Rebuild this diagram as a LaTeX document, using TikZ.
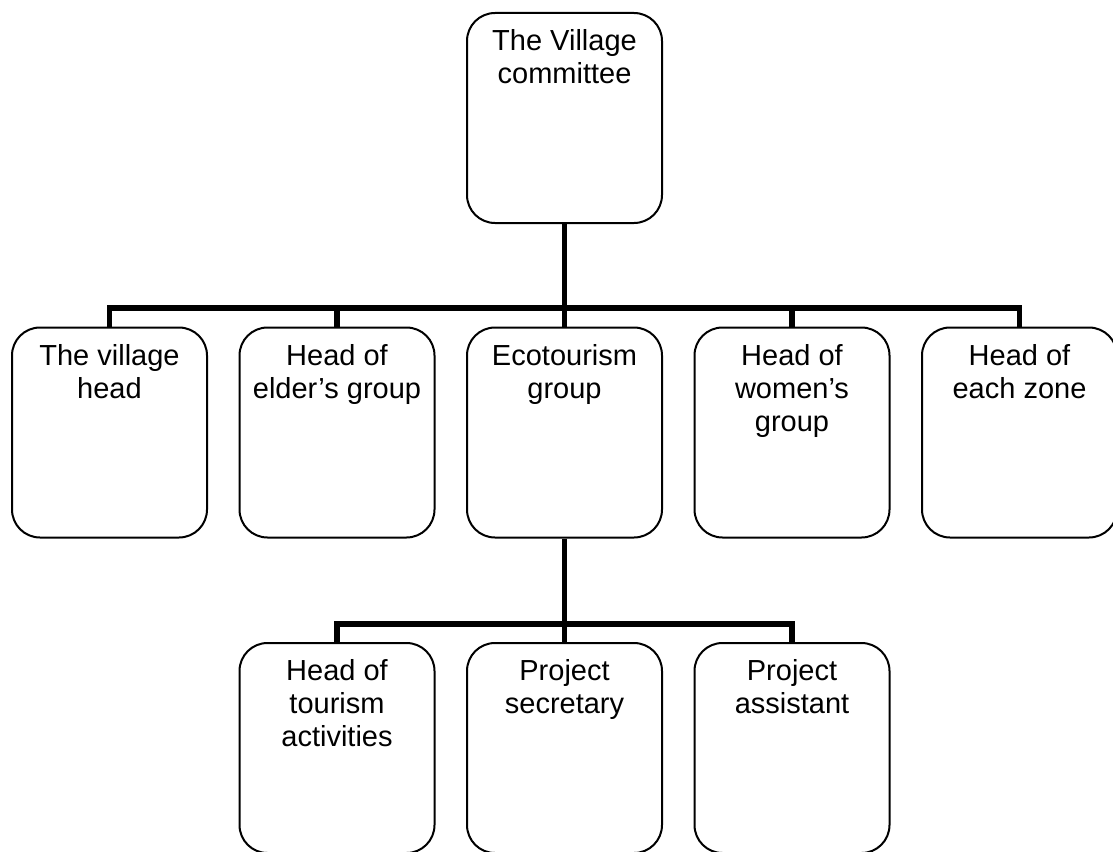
\documentclass[tikz,border=0pt]{standalone}
\usepackage{fontspec}
\setmainfont{Liberation Sans}
\newcommand\boxtext[1]{\parbox[c][210pt][t]{195pt}{\centering\fontsize{29}{33}\selectfont\rule{0pt}{37.7pt}#1}}
\begin{document}
\begin{tikzpicture}[x=1pt,y=-1pt,
  box/.style={draw=black, line width=2pt, rounded corners=28pt, inner sep=0pt,
    minimum width=195pt, minimum height=210pt, fill=white},
  conn/.style={draw=black, line width=5.5pt, line join=miter}]
\useasboundingbox (0,0) rectangle (1113,851);
\node[box] (vc) at (564.5,118) {\boxtext{The Village\\committee}};
\node[box] (b1) at (109.5,432.5) {\boxtext{The village\\head}};
\node[box] (b2) at (337,432.5) {\boxtext{Head of\\elder’s group}};
\node[box] (b3) at (564.5,432.5) {\boxtext{Ecotourism\\group}};
\node[box] (b4) at (792,432.5) {\boxtext{Head of\\women’s\\group}};
\node[box] (b5) at (1019.5,432.5) {\boxtext{Head of\\each zone}};
\node[box] (c1) at (337,748) {\boxtext{Head of\\tourism\\activities}};
\node[box] (c2) at (564.5,748) {\boxtext{Project\\secretary}};
\node[box] (c3) at (792,748) {\boxtext{Project\\assistant}};
\coordinate (bar1) at (564.5,308);
\coordinate (bar2) at (564.5,624);
\draw[conn] (vc.south) -- (bar1);
\draw[conn] (b1.north) -- (b1.north |- bar1) -- (b5.north |- bar1) -- (b5.north);
\draw[conn] (b2.north) -- (b2.north |- bar1);
\draw[conn] (b3.north) -- (b3.north |- bar1);
\draw[conn] (b4.north) -- (b4.north |- bar1);
\draw[conn] (b3.south) -- (bar2);
\draw[conn] (c1.north) -- (c1.north |- bar2) -- (c3.north |- bar2) -- (c3.north);
\draw[conn] (c2.north) -- (c2.north |- bar2);
\end{tikzpicture}
\end{document}
